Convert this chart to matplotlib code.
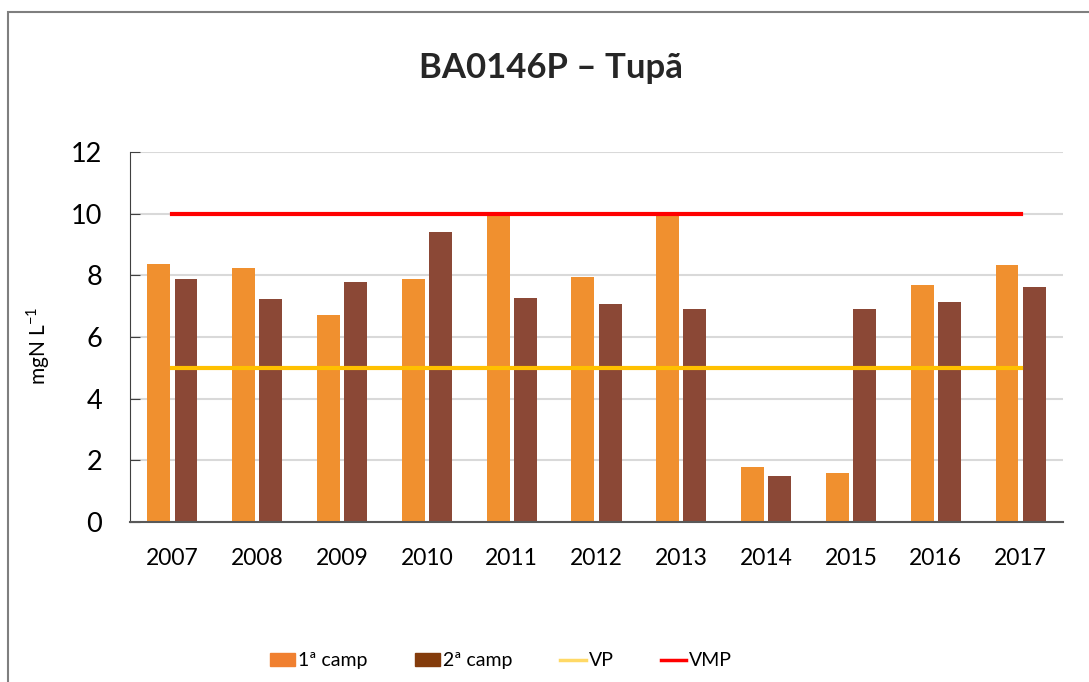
import matplotlib.pyplot as plt
import numpy as np
from matplotlib.patches import Patch, Rectangle
from matplotlib.lines import Line2D

plt.rcParams['font.family'] = ['Lato', 'DejaVu Sans']

# data
anos = ['2007', '2008', '2009', '2010', '2011', '2012', '2013', '2014', '2015', '2016', '2017']
camp1 = [8.36, 8.24, 6.71, 7.89, 9.95, 7.95, 9.95, 1.80, 1.59, 7.68, 8.32]
camp2 = [7.87, 7.23, 7.78, 9.39, 7.26, 7.07, 6.90, 1.50, 6.90, 7.12, 7.61]
vp = [5] * len(anos)
vmp = [10] * len(anos)

fig = plt.figure(figsize=(10.89, 6.82), dpi=100)
ax = fig.add_axes([0.1194, 0.2346, 0.8567, 0.5425])

x = np.arange(len(anos))
w = 0.27
ax.bar(x - 0.16, camp1, w, color='#F0902F', zorder=2)
ax.bar(x + 0.16, camp2, w, color='#8B4836', zorder=2)
ax.plot(x, vp, color='#FFC000', lw=3, zorder=3)
ax.plot(x, vmp, color='#FF0000', lw=3, zorder=3)

ax.set_xlim(-0.5, len(anos) - 0.5)
ax.set_ylim(0, 12)
ax.set_yticks(range(0, 13, 2))
ax.set_xticks(x)
ax.set_xticklabels(anos)
ax.grid(axis='y', color='#D9D9D9', lw=1.5, zorder=0)
ax.set_axisbelow(True)
for s in ['top', 'right']:
    ax.spines[s].set_visible(False)
ax.spines['left'].set_color('#404040')
ax.spines['bottom'].set_color('#595959')
ax.spines['bottom'].set_linewidth(1.5)
ax.tick_params(axis='y', direction='in', length=7, labelsize=19.5, pad=20, color='#404040')
ax.tick_params(axis='x', length=0, labelsize=16.5, pad=19)
ax.set_ylabel('mgN L$^{\\mathregular{-1}}$', fontsize=15)
ax.yaxis.set_label_coords(-0.0836, 0.476)

fig.text(0.506, 0.90, 'BA0146P – Tupã', ha='center', va='center',
         fontsize=25, fontweight='bold', color='#262626')

# legend uses its own colours as in the original
handles = [Patch(color='#F08030'), Patch(color='#843C0C'),
           Line2D([], [], color='#FFD966', lw=2.5), Line2D([], [], color='#FF0000', lw=2.5)]
labels = ['1ª camp', '2ª camp', 'VP', 'VMP']
fig.legend(handles, labels, loc='center', bbox_to_anchor=(0.46, 0.031), ncol=4,
           frameon=False, fontsize=14, columnspacing=2.45, handlelength=1.3,
           handletextpad=0.15)

# outer chart border (cut off on right/bottom in the reference)
fig.patches.append(Rectangle((8 / 1089, -0.1), 1.2, 1.1 - 12 / 682, transform=fig.transFigure,
                             fill=False, edgecolor='#7F7F7F', lw=1.5))

fig.savefig('out.png', dpi=100)
